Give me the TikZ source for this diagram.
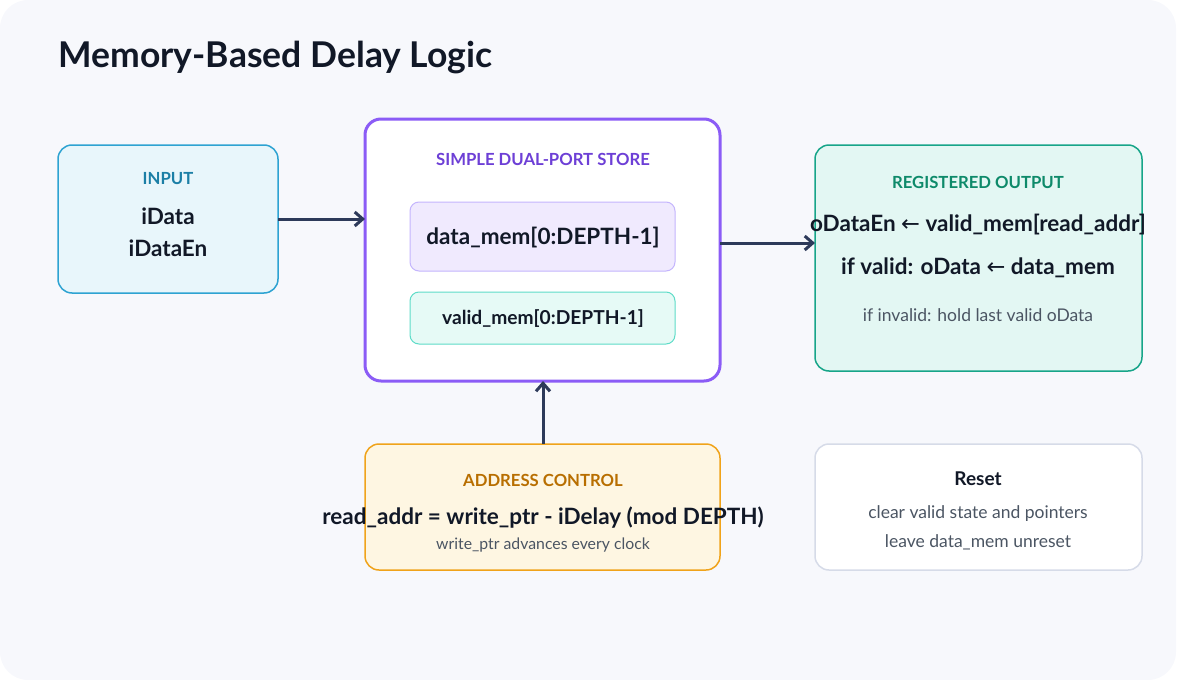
\documentclass[tikz,border=0pt]{standalone}
\usepackage{fontspec}
\setmainfont{Lato}[BoldFont={* Bold}]
\newfontfamily\dv{DejaVu Sans}
\newcommand{\la}{{\dv\mdseries ←}}
\usetikzlibrary{arrows.meta}
\definecolor{bg}{HTML}{F7F8FC}
\definecolor{ink}{HTML}{111827}
\definecolor{arr}{HTML}{2D3A5A}
\definecolor{gr}{HTML}{4B5563}
\tikzset{x=1pt,y=-1pt,
 box/.style={rounded corners=14pt,line width=1.5pt},
 t/.style={font=\fontsize{16.7}{19}\selectfont\bfseries},
 b/.style={font=\fontsize{22.5}{25}\selectfont\bfseries,text=ink},
 s/.style={font=\fontsize{17.5}{20}\selectfont,text=gr},
 a/.style={draw=arr,line width=3pt,-{Straight Barb[length=8pt,width=14pt]}}}
\begin{document}
\begin{tikzpicture}
\useasboundingbox (0,0) rectangle (1200,680);
\fill[bg,rounded corners=28pt] (0,0) rectangle (1176,680);
\node[anchor=west,font=\fontsize{35.5}{40}\selectfont\bfseries,text=ink] (title) at (55,58) {Memory-Based Delay Logic};
% input
\draw[box,draw={rgb,255:red,46;green,163;blue,210},fill={rgb,255:red,232;green,246;blue,251}] (58,145) rectangle (278,293);
\coordinate (inR) at (278,219);
\node[t,text={rgb,255:red,27;green,127;blue,166}] (inT) at (168,179) {INPUT};
\node[b] (in1) at (168,216) {iData};
\node[b] (in2) at (168,248) {iDataEn};
% store
\draw[box,line width=3pt,draw={rgb,255:red,139;green,92;blue,246},fill=white,rounded corners=16pt] (365,119) rectangle (720,381);
\coordinate (stL) at (365,219);\coordinate (stR) at (720,243);\coordinate (stB) at (543,381);
\node[t,text={rgb,255:red,109;green,63;blue,214}] (stT) at (543,159) {SIMPLE DUAL-PORT STORE};
\draw[rounded corners=9pt,line width=1pt,draw={rgb,255:red,196;green,181;blue,253},fill={rgb,255:red,240;green,234;blue,254}] (410,202) rectangle (675,271);
\node[b] (dm) at (543,238) {data\_mem[0:DEPTH-1]};
\draw[rounded corners=9pt,line width=1pt,draw={rgb,255:red,94;green,220;blue,200},fill={rgb,255:red,230;green,250;blue,246}] (410,292) rectangle (675,344);
\node[b,font=\fontsize{19.2}{22}\selectfont\bfseries] (vm) at (543,319) {valid\_mem[0:DEPTH-1]};
% output
\draw[box,draw={rgb,255:red,23;green,165;blue,137},fill={rgb,255:red,227;green,247;blue,243}] (815,145) rectangle (1142,371);
\coordinate (outL) at (815,243);
\node[t,text={rgb,255:red,14;green,138;blue,106}] (oT) at (978,182) {REGISTERED OUTPUT};
\node[b] (o1) at (978,225) {oDataEn \la{} valid\_mem[read\_addr]};
\node[b] (o2) at (978,268) {if valid: oData \la{} data\_mem};
\node[s] (o3) at (978,315) {if invalid: hold last valid oData};
% address
\draw[box,draw={rgb,255:red,240;green,163;blue,26},fill={rgb,255:red,254;green,246;blue,226}] (365,444) rectangle (720,570);
\coordinate (adT) at (543,444);
\node[t,text={rgb,255:red,184;green,110;blue,0}] (aT) at (543,480) {ADDRESS CONTROL};
\node[b] (a1) at (543,518) {read\_addr = write\_ptr - iDelay (mod DEPTH)};
\node[s,font=\fontsize{15.8}{18}\selectfont] (a2) at (543,545) {write\_ptr advances every clock};
% reset
\draw[box,draw={rgb,255:red,214;green,219;blue,232},fill=white] (815,444) rectangle (1142,570);
\node[b,font=\fontsize{19}{22}\selectfont\bfseries] (rT) at (978,479) {Reset};
\node[s] (r1) at (978,514) {clear valid state and pointers};
\node[s] (r2) at (978,542) {leave data\_mem unreset};
% arrows
\draw[a] (inR) -- (stL);
\draw[a] (stR) -- (outL);
\draw[a] (adT) -- (stB);
\end{tikzpicture}
\end{document}
